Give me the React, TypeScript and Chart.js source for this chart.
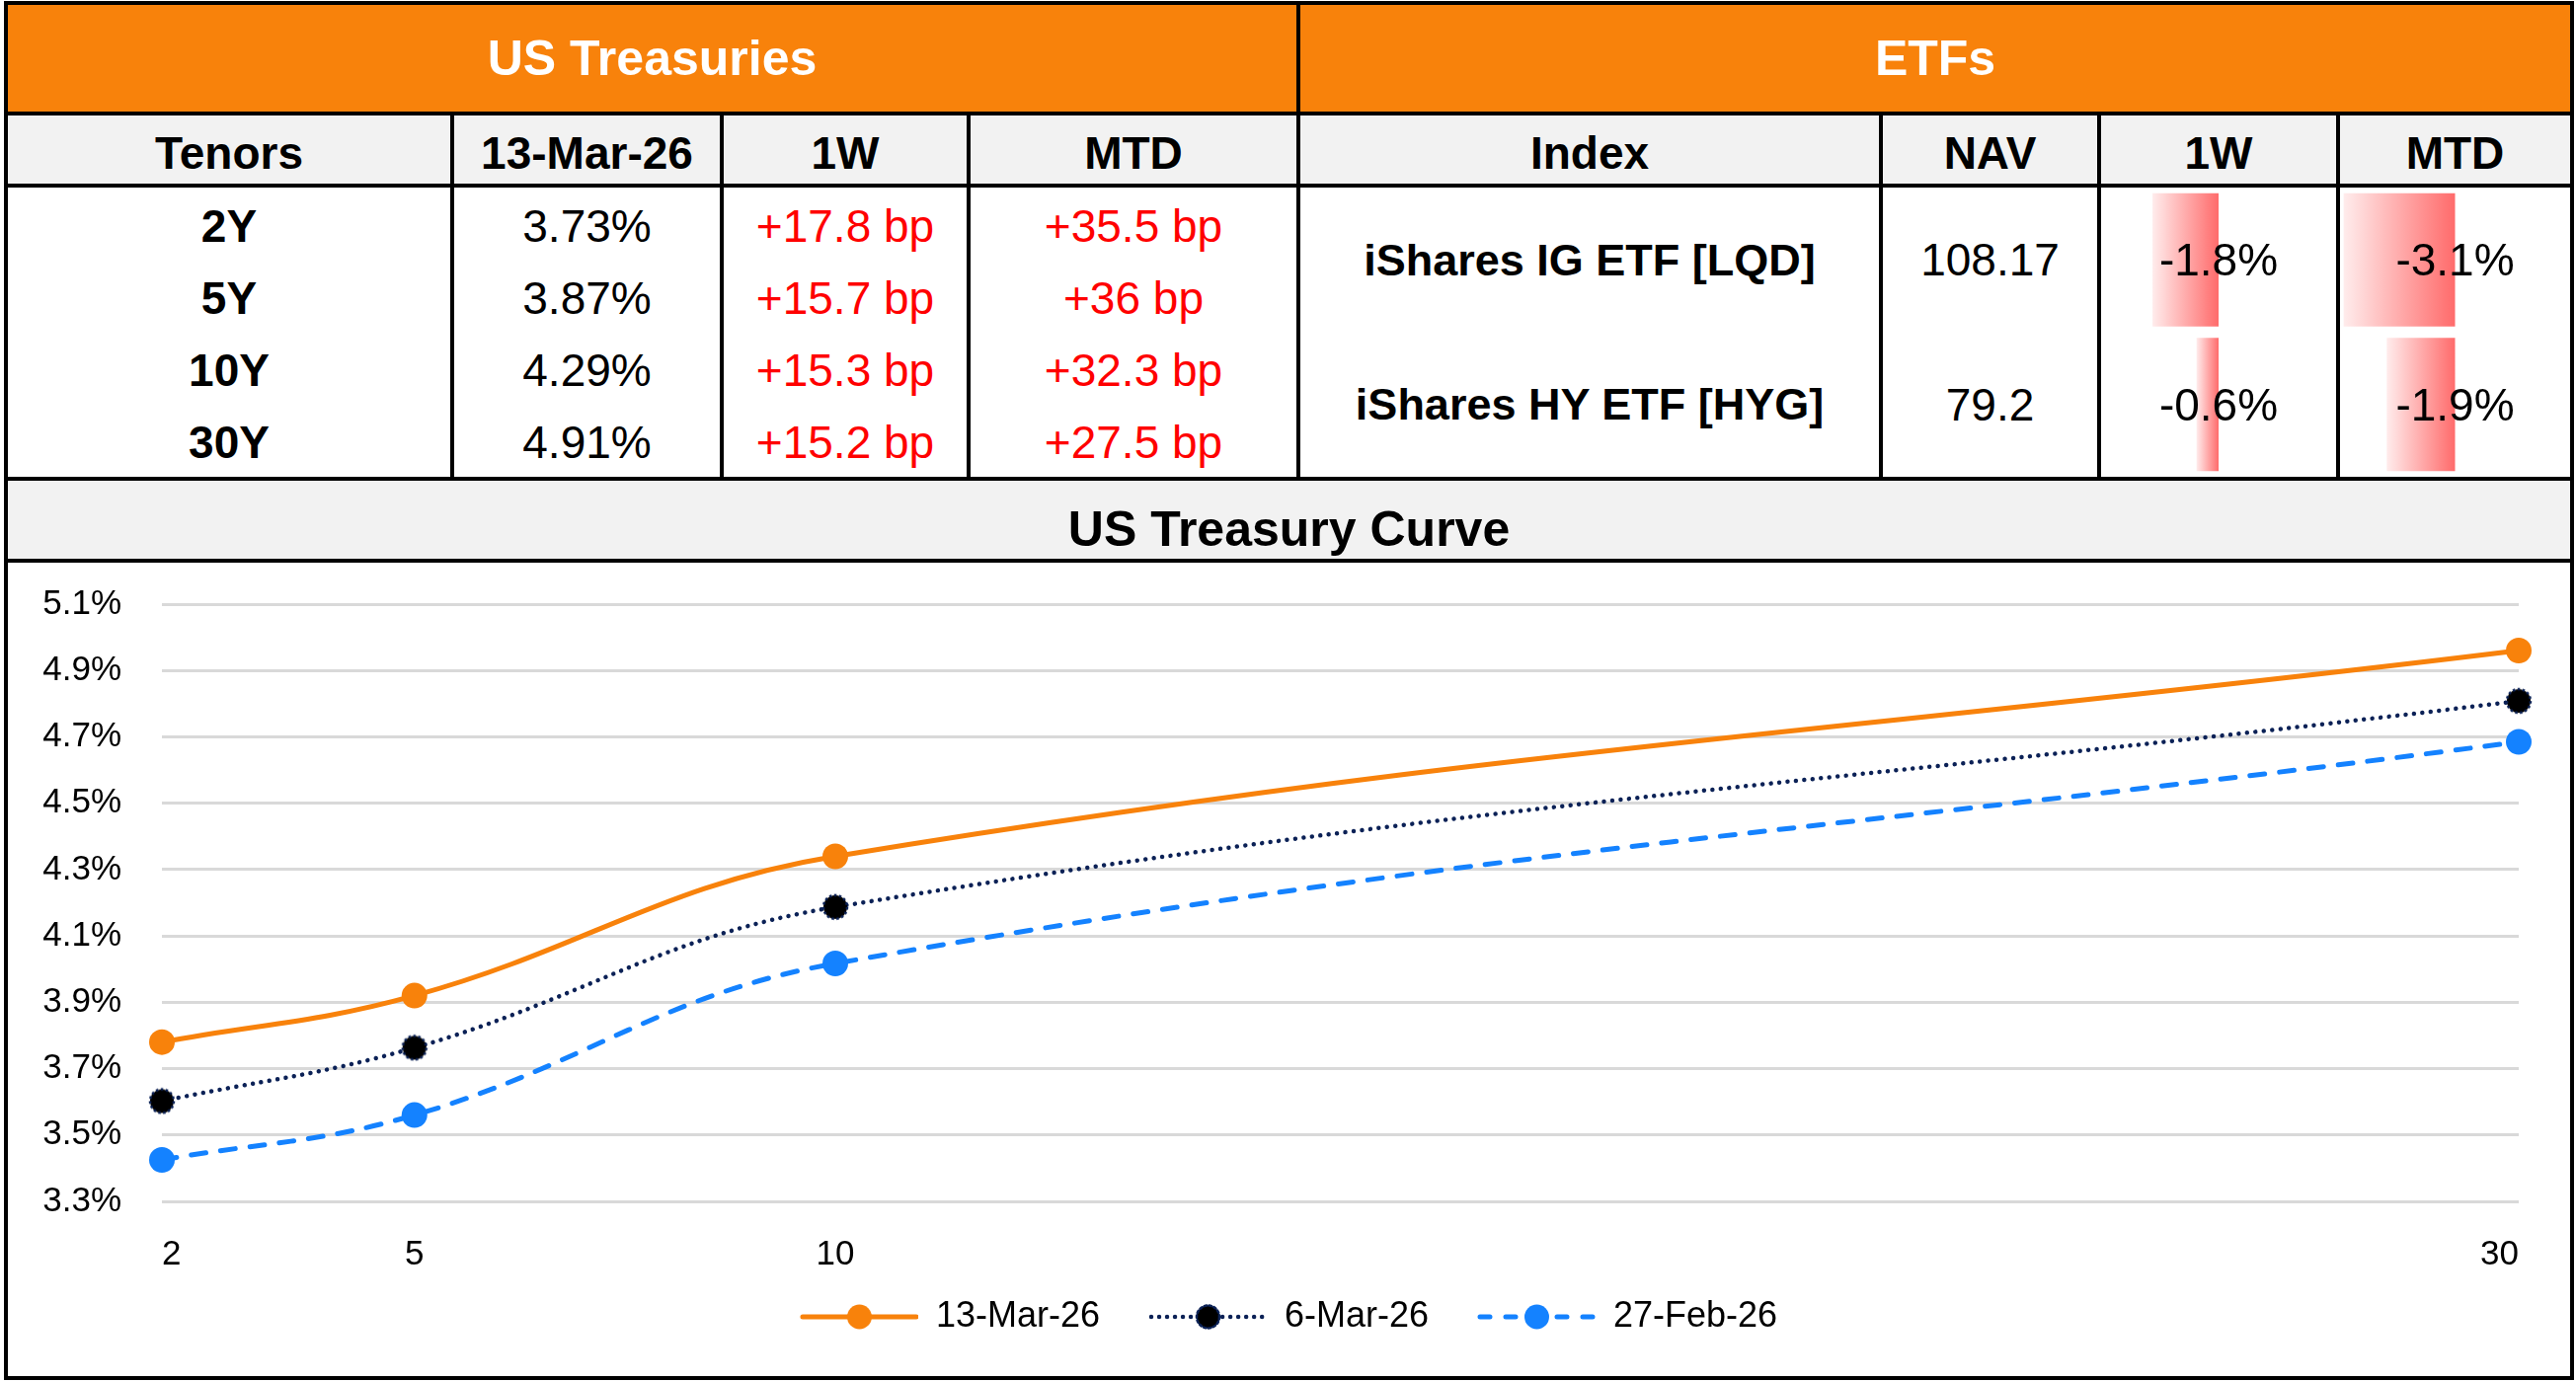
import React, { useEffect, useRef } from 'react';
import { Chart, registerables } from 'chart.js';

Chart.register(...registerables);

// ---------- data ----------
const tenors = ['2Y', '5Y', '10Y', '30Y'];
const tenorYears = [2, 5, 10, 30];
const latestLabel = '13-Mar-26';
const yieldsLatest = [3.73, 3.87, 4.29, 4.91];
const change1Wbp = [17.8, 15.7, 15.3, 15.2];
const changeMTDbp = [35.5, 36, 32.3, 27.5];

const seriesNames = ['13-Mar-26', '6-Mar-26', '27-Feb-26'];
const curve13Mar = [3.73, 3.87, 4.29, 4.91];
const curve6Mar = [3.552, 3.713, 4.137, 4.758];
const curve27Feb = [3.375, 3.51, 3.967, 4.635];

const etfNames = ['iShares IG ETF [LQD]', 'iShares HY ETF [HYG]'];
const etfNav = ['108.17', '79.2'];
const etf1W = [-1.8, -0.6];
const etfMTD = [-3.1, -1.9];

const yTickValues = [3.25, 3.45, 3.65, 3.85, 4.05, 4.25, 4.45, 4.65, 4.85, 5.05];
const yTickLabels = ['3.3%', '3.5%', '3.7%', '3.9%', '4.1%', '4.3%', '4.5%', '4.7%', '4.9%', '5.1%'];
const xTickValues = [2, 5, 10, 30];
const xTickLabels = ['2', '5', '10', '30'];

const barScaleMin = -3.2;
const barScaleMax = 3.2;

// ---------- styles ----------
const FONT = "'Liberation Sans', Arial, Helvetica, sans-serif";
const ORANGE = '#F8820B';
const NAVY = '#0B2156';
const BLUE = '#1482FF';
const GRID = '#D9D9D9';
const HEAD_GRAY = '#F2F2F2';
const RED = '#FF0000';

const LEGEND_BOX = 139;
const LEGEND_LEAD = 20;

type CellProps = {
  x0: number; x1: number; y0: number; y1: number;
  text: string; size: number; bold?: boolean; color?: string; padTop?: number;
};

function TextCell({ x0, x1, y0, y1, text, size, bold, color, padTop }: CellProps) {
  return (
    <div
      style={{
        position: 'absolute', left: x0, top: y0, width: x1 - x0, height: y1 - y0,
        display: 'flex', alignItems: 'center', justifyContent: 'center',
        fontFamily: FONT, fontSize: size, fontWeight: bold ? 700 : 400,
        color: color || '#000', paddingTop: padTop || 0, boxSizing: 'border-box',
        whiteSpace: 'nowrap', lineHeight: 1, zIndex: 3, pointerEvents: 'none',
      }}
    >
      {text}
    </div>
  );
}

function Rect({ x, y, w, h, bg, z }: { x: number; y: number; w: number; h: number; bg: string; z?: number }) {
  return <div style={{ position: 'absolute', left: x, top: y, width: w, height: h, background: bg, zIndex: z || 1 }} />;
}

function makeLegendImage(kind: 'solid' | 'dot' | 'dash', color: string, fill: string, ring: string | null) {
  const c = document.createElement('canvas');
  c.width = LEGEND_BOX;
  c.height = 32;
  const g = c.getContext('2d') as CanvasRenderingContext2D;
  const x0 = LEGEND_LEAD + 2;
  const x1 = LEGEND_BOX - 2;
  const cx = (LEGEND_LEAD + LEGEND_BOX) / 2;
  g.strokeStyle = color;
  g.lineCap = 'round';
  if (kind === 'solid') {
    g.lineWidth = 5;
  } else if (kind === 'dot') {
    g.lineWidth = 4.5;
    g.setLineDash([0.01, 8]);
  } else {
    g.lineWidth = 5;
    g.setLineDash([10, 16]);
  }
  g.beginPath();
  g.moveTo(x0, 16);
  g.lineTo(x1, 16);
  g.stroke();
  g.setLineDash([]);
  g.beginPath();
  g.arc(cx, 16, kind === 'dot' ? 11.5 : 12.5, 0, Math.PI * 2);
  g.fillStyle = fill;
  g.fill();
  if (ring) {
    g.lineWidth = 2.5;
    g.strokeStyle = ring;
    g.setLineDash([2.5, 2.5]);
    g.stroke();
  }
  return c;
}

function makePointImage() {
  const c = document.createElement('canvas');
  c.width = 30;
  c.height = 30;
  const g = c.getContext('2d') as CanvasRenderingContext2D;
  g.beginPath();
  g.arc(15, 15, 12, 0, Math.PI * 2);
  g.fillStyle = '#000';
  g.fill();
  g.lineWidth = 2.5;
  g.strokeStyle = NAVY;
  g.setLineDash([2.5, 2.5]);
  g.stroke();
  return c;
}

function makeBarChart(canvas: HTMLCanvasElement, values: number[]) {
  return new Chart(canvas, {
    type: 'bar',
    data: {
      labels: etfNames,
      datasets: [
        {
          data: values,
          borderWidth: 0,
          barPercentage: 0.92,
          categoryPercentage: 1,
          backgroundColor: (ctx: any) => {
            const chart = ctx.chart;
            const xs = chart.scales && chart.scales.x;
            if (!xs || typeof ctx.raw !== 'number') return '#FF9A9A';
            const xEnd = xs.getPixelForValue(ctx.raw);
            const xZero = xs.getPixelForValue(0);
            if (!isFinite(xEnd) || !isFinite(xZero) || xEnd === xZero) return '#FF9A9A';
            const grad = chart.ctx.createLinearGradient(xEnd, 0, xZero, 0);
            grad.addColorStop(0, '#FFECEC');
            grad.addColorStop(1, '#FF6B6B');
            return grad;
          },
        },
      ],
    },
    options: {
      indexAxis: 'y',
      animation: false,
      responsive: true,
      maintainAspectRatio: false,
      events: [],
      layout: { padding: 0 },
      plugins: { legend: { display: false }, tooltip: { enabled: false } },
      scales: {
        x: { display: false, min: barScaleMin, max: barScaleMax },
        y: { display: false },
      },
    },
  } as any);
}

export default function App() {
  const lineRef = useRef<HTMLCanvasElement>(null);
  const bar1Ref = useRef<HTMLCanvasElement>(null);
  const bar2Ref = useRef<HTMLCanvasElement>(null);

  useEffect(() => {
    document.body.style.margin = '0';
    Chart.defaults.font.family = FONT;
    Chart.defaults.color = '#000';

    const legendImages = [
      makeLegendImage('solid', ORANGE, ORANGE, null),
      makeLegendImage('dot', NAVY, '#000', NAVY),
      makeLegendImage('dash', BLUE, BLUE, null),
    ];
    const navyPoint = makePointImage();

    const toXY = (vals: number[]) => tenorYears.map((x, i) => ({ x, y: vals[i] }));

    const line = new Chart(lineRef.current as HTMLCanvasElement, {
      type: 'line',
      data: {
        datasets: [
          {
            label: seriesNames[0],
            data: toXY(curve13Mar),
            borderColor: ORANGE,
            backgroundColor: ORANGE,
            borderWidth: 5,
            pointRadius: 13,
            pointHoverRadius: 13,
            pointBackgroundColor: ORANGE,
            pointBorderColor: ORANGE,
            pointBorderWidth: 0,
            tension: 0.4,
            clip: false,
          },
          {
            label: seriesNames[1],
            data: toXY(curve6Mar),
            borderColor: NAVY,
            backgroundColor: '#000',
            borderWidth: 4.5,
            borderDash: [0.01, 8.5],
            borderCapStyle: 'round',
            pointStyle: navyPoint,
            pointRadius: 13,
            pointHoverRadius: 13,
            tension: 0.4,
            clip: false,
          },
          {
            label: seriesNames[2],
            data: toXY(curve27Feb),
            borderColor: BLUE,
            backgroundColor: BLUE,
            borderWidth: 5,
            borderDash: [15, 15],
            borderCapStyle: 'round',
            pointRadius: 13,
            pointHoverRadius: 13,
            pointBackgroundColor: BLUE,
            pointBorderColor: BLUE,
            pointBorderWidth: 0,
            tension: 0.4,
            clip: false,
          },
        ],
      },
      options: {
        animation: false,
        responsive: true,
        maintainAspectRatio: false,
        events: [],
        layout: { padding: { top: 42, bottom: 32, left: 0, right: 20 } },
        plugins: {
          tooltip: { enabled: false },
          legend: {
            position: 'bottom',
            labels: {
              usePointStyle: true,
              pointStyleWidth: LEGEND_BOX,
              boxHeight: 36,
              padding: 30,
              color: '#000',
              font: { size: 36, family: FONT },
              generateLabels: (chart: any) =>
                (Chart.defaults.plugins.legend.labels as any)
                  .generateLabels(chart)
                  .map((item: any, i: number) => ({ ...item, pointStyle: legendImages[i], lineWidth: 0 })),
            },
          },
        },
        scales: {
          x: {
            type: 'linear',
            min: 2,
            max: 30,
            afterBuildTicks: (s: any) => {
              s.ticks = xTickValues.map((v) => ({ value: v }));
            },
            afterFit: (s: any) => {
              s.height = 69;
              s.paddingLeft = 0;
              s.paddingRight = 0;
            },
            grid: { display: false, drawTicks: false },
            border: { display: false },
            ticks: {
              padding: 33,
              align: 'inner',
              autoSkip: false,
              maxRotation: 0,
              color: '#000',
              font: { size: 35, family: FONT },
              callback: (_v: any, i: number) => xTickLabels[i],
            },
          },
          y: {
            type: 'linear',
            min: 3.25,
            max: 5.05,
            afterBuildTicks: (s: any) => {
              s.ticks = yTickValues.map((v) => ({ value: v }));
            },
            afterFit: (s: any) => {
              s.width = 156;
              s.paddingTop = 0;
              s.paddingBottom = 0;
            },
            grid: { color: GRID, lineWidth: 3, drawTicks: false },
            border: { display: false },
            ticks: {
              padding: 41,
              color: '#000',
              font: { size: 35, family: FONT },
              callback: (_v: any, i: number) => yTickLabels[i],
            },
          },
          yR: {
            type: 'linear',
            position: 'right',
            display: true,
            grid: { display: false, drawTicks: false },
            border: { display: false },
            ticks: { display: false },
            afterFit: (s: any) => {
              s.width = 32;
              s.paddingTop = 0;
              s.paddingBottom = 0;
            },
          },
        },
      },
    } as any);

    const b1 = makeBarChart(bar1Ref.current as HTMLCanvasElement, etf1W);
    const b2 = makeBarChart(bar2Ref.current as HTMLCanvasElement, etfMTD);

    return () => {
      line.destroy();
      b1.destroy();
      b2.destroy();
    };
  }, []);

  // layout geometry (page pixels)
  const L = 8;
  const R = 2603;
  const cols = [8, 460, 733, 983, 1317, 1907, 2128, 2370];
  const colEnds = [456, 729, 979, 1313, 1903, 2124, 2366, 2603];
  const vLines = [456, 729, 979, 1903, 2124, 2366];
  const rowTop = 190;
  const rowBottom = 483;
  const tRowH = (rowBottom - rowTop) / tenors.length;
  const eRowH = (rowBottom - rowTop) / etfNames.length;

  const fmtBp = (v: number) => `+${v} bp`;
  const fmtPct = (v: number) => `${v.toFixed(2)}%`;
  const fmtEtf = (v: number) => `${v}%`;

  const headers = ['Tenors', latestLabel, '1W', 'MTD', 'Index', 'NAV', '1W', 'MTD'];

  return (
    <div style={{ position: 'relative', width: 2609, height: 1400, background: '#fff', fontFamily: FONT, overflow: 'hidden' }}>
      {/* backgrounds */}
      <Rect x={L} y={5} w={R - L} h={108} bg={ORANGE} />
      <Rect x={L} y={117} w={R - L} h={69} bg={HEAD_GRAY} />
      <Rect x={L} y={487} w={R - L} h={79} bg={HEAD_GRAY} />

      {/* data bar canvases */}
      <div style={{ position: 'absolute', left: cols[6], top: rowTop, width: colEnds[6] - cols[6], height: rowBottom - rowTop, zIndex: 2 }}>
        <canvas ref={bar1Ref} />
      </div>
      <div style={{ position: 'absolute', left: cols[7], top: rowTop, width: colEnds[7] - cols[7], height: rowBottom - rowTop, zIndex: 2 }}>
        <canvas ref={bar2Ref} />
      </div>

      {/* chart */}
      <div style={{ position: 'absolute', left: L, top: 570, width: R - L, height: 824, zIndex: 2 }}>
        <canvas ref={lineRef} />
      </div>

      {/* lines */}
      <Rect x={4} y={1} w={2603} h={4} bg="#000" z={4} />
      <Rect x={4} y={1394} w={2603} h={4} bg="#000" z={4} />
      <Rect x={4} y={1} w={4} h={1397} bg="#000" z={4} />
      <Rect x={2603} y={1} w={4} h={1397} bg="#000" z={4} />
      <Rect x={4} y={113} w={2603} h={4} bg="#000" z={4} />
      <Rect x={4} y={186} w={2603} h={4} bg="#000" z={4} />
      <Rect x={4} y={483} w={2603} h={4} bg="#000" z={4} />
      <Rect x={4} y={566} w={2603} h={4} bg="#000" z={4} />
      <Rect x={1313} y={1} w={4} h={486} bg="#000" z={4} />
      {vLines.map((x) => (
        <Rect key={'v' + x} x={x} y={113} w={4} h={374} bg="#000" z={4} />
      ))}

      {/* section titles */}
      <TextCell x0={L} x1={1313} y0={5} y1={113} text="US Treasuries" size={50} bold color="#fff" />
      <TextCell x0={1317} x1={R} y0={5} y1={113} text="ETFs" size={50} bold color="#fff" />
      <TextCell x0={L} x1={R} y0={487} y1={566} text="US Treasury Curve" size={50} bold padTop={19} />

      {/* header row */}
      {headers.map((h, i) => (
        <TextCell key={'h' + i} x0={cols[i]} x1={colEnds[i]} y0={117} y1={186} text={h} size={46} bold padTop={7} />
      ))}

      {/* treasury rows */}
      {tenors.map((t, i) => {
        const y0 = rowTop + i * tRowH + 2;
        const y1 = y0 + tRowH;
        return (
          <React.Fragment key={'t' + i}>
            <TextCell x0={cols[0]} x1={colEnds[0]} y0={y0} y1={y1} text={t} size={46} bold />
            <TextCell x0={cols[1]} x1={colEnds[1]} y0={y0} y1={y1} text={fmtPct(yieldsLatest[i])} size={46} />
            <TextCell x0={cols[2]} x1={colEnds[2]} y0={y0} y1={y1} text={fmtBp(change1Wbp[i])} size={46} color={RED} />
            <TextCell x0={cols[3]} x1={colEnds[3]} y0={y0} y1={y1} text={fmtBp(changeMTDbp[i])} size={46} color={RED} />
          </React.Fragment>
        );
      })}

      {/* etf rows */}
      {etfNames.map((n, i) => {
        const y0 = rowTop + i * eRowH;
        const y1 = y0 + eRowH;
        return (
          <React.Fragment key={'e' + i}>
            <TextCell x0={cols[4]} x1={colEnds[4]} y0={y0} y1={y1} text={n} size={45} bold />
            <TextCell x0={cols[5]} x1={colEnds[5]} y0={y0} y1={y1} text={etfNav[i]} size={46} />
            <TextCell x0={cols[6]} x1={colEnds[6]} y0={y0} y1={y1} text={fmtEtf(etf1W[i])} size={46} />
            <TextCell x0={cols[7]} x1={colEnds[7]} y0={y0} y1={y1} text={fmtEtf(etfMTD[i])} size={46} />
          </React.Fragment>
        );
      })}
    </div>
  );
}
